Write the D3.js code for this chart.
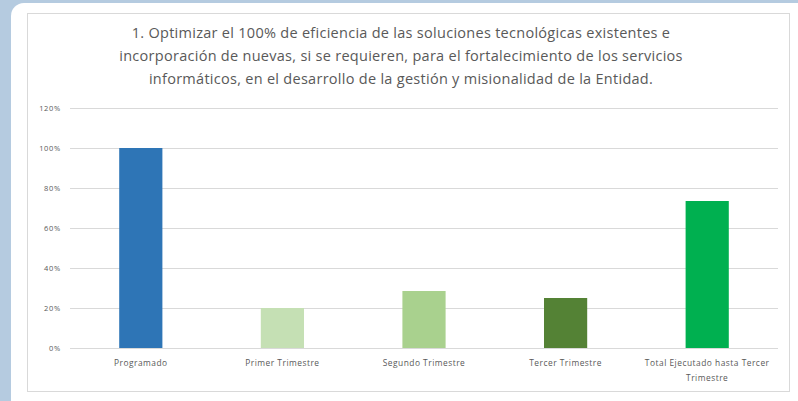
<!DOCTYPE html>
<html>
<head>
<meta charset="utf-8">
<script src="https://cdn.jsdelivr.net/npm/d3@7"></script>
<style>
  body { margin: 0; background: #b5cbe0; }
  svg { display: block; }
</style>
</head>
<body>
<script>
var categories = ["Programado", "Primer Trimestre", "Segundo Trimestre", "Tercer Trimestre", "Total Ejecutado hasta Tercer Trimestre"];
var values = [1.00, 0.20, 0.285, 0.25, 0.735];
var barColors = ["#2e75b6", "#c5e0b4", "#a9d18e", "#548235", "#00b050"];
var yTicks = [0, 0.2, 0.4, 0.6, 0.8, 1.0, 1.2];
var titleLines = [
    "1. Optimizar el 100% de eficiencia de las soluciones tecnológicas existentes e",
    "incorporación de nuevas, si se requieren, para el fortalecimiento de los servicios",
    "informáticos, en el desarrollo de la gestión y misionalidad de la Entidad."
];

var outerWidth = 798;
var outerHeight = 401;

var plotLeft = 70;
var plotRight = 778;
var plotTop = 108;
var plotBottom = 348;

var svg = d3.select("body").append("svg")
    .attr("width", outerWidth)
    .attr("height", outerHeight);

// white panel behind the chart
svg.append("rect")
    .attr("x", 11).attr("y", 3)
    .attr("width", 820).attr("height", 410)
    .attr("rx", 13).attr("ry", 13)
    .attr("fill", "#ffffff");

// chart frame
svg.append("rect")
    .attr("x", 27.5).attr("y", 13.5)
    .attr("width", 762).attr("height", 378)
    .attr("fill", "#ffffff")
    .attr("stroke", "#d9d9d9")
    .attr("stroke-width", 1);

var x = d3.scaleBand()
    .domain(categories)
    .range([plotLeft, plotRight])
    .paddingInner(0.695)
    .paddingOuter(0.3475);

var y = d3.scaleLinear()
    .domain([0, 1.2])
    .range([plotBottom, plotTop]);

// gridlines
svg.append("g")
    .selectAll("line")
    .data(yTicks)
    .enter()
    .append("line")
    .attr("x1", plotLeft)
    .attr("x2", plotRight)
    .attr("y1", function(d){ return Math.round(y(d)) + 0.5; })
    .attr("y2", function(d){ return Math.round(y(d)) + 0.5; })
    .attr("stroke", "#d9d9d9")
    .attr("stroke-width", 1);

// y tick labels
svg.append("g")
    .selectAll("text")
    .data(yTicks)
    .enter()
    .append("text")
    .attr("x", 61)
    .attr("y", function(d){ return y(d); })
    .attr("dy", "0.35em")
    .attr("text-anchor", "end")
    .attr("font-family", "Open Sans, sans-serif")
    .attr("font-size", 7.5)
    .attr("letter-spacing", 0.7)
    .attr("fill", "#595959")
    .text(d3.format(".0%"));

// bars
svg.append("g")
    .selectAll("rect")
    .data(values)
    .enter()
    .append("rect")
    .attr("x", function(d, i){ return x(categories[i]); })
    .attr("y", function(d){ return y(d); })
    .attr("width", x.bandwidth())
    .attr("height", function(d){ return y(0) - y(d); })
    .attr("fill", function(d, i){ return barColors[i]; });

// category labels, wrapped the way the reference wraps them
var labelLines = categories.map(function(c){
    if (c.length > 30) return ["Total Ejecutado hasta Tercer", "Trimestre"];
    return [c];
});

var labels = svg.append("g")
    .selectAll("text")
    .data(categories)
    .enter()
    .append("text")
    .attr("text-anchor", "middle")
    .attr("font-family", "Open Sans, sans-serif")
    .attr("font-size", 8.4)
    .attr("letter-spacing", 0.5)
    .attr("fill", "#595959");

labels.selectAll("tspan")
    .data(function(d, i){ return labelLines[i].map(function(l){ return { cat: d, text: l }; }); })
    .enter()
    .append("tspan")
    .attr("x", function(d){ return x(d.cat) + x.bandwidth() / 2; })
    .attr("y", function(d, i){ return 366 + i * 15; })
    .text(function(d){ return d.text; });

// title
svg.append("g")
    .selectAll("text")
    .data(titleLines)
    .enter()
    .append("text")
    .attr("x", 401)
    .attr("y", function(d, i){ return 38 + i * 23; })
    .attr("text-anchor", "middle")
    .attr("font-family", "Open Sans, sans-serif")
    .attr("font-size", 14.5)
    .attr("letter-spacing", 0.28)
    .attr("fill", "#595959")
    .text(function(d){ return d; });
</script>
</body>
</html>
